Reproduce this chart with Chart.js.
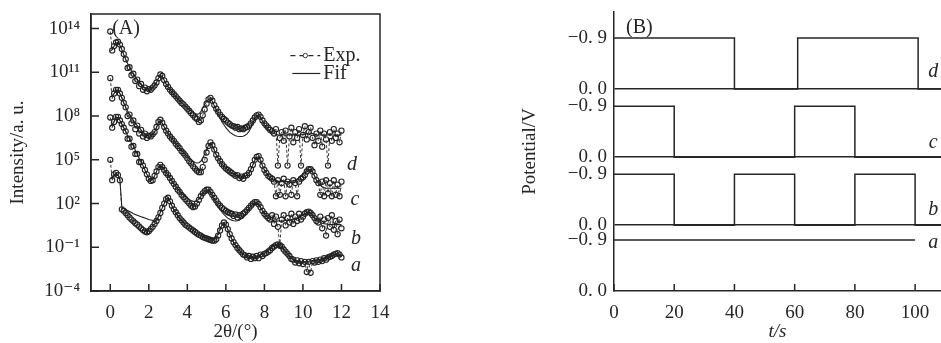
<!DOCTYPE html>
<html>
<head>
<meta charset="utf-8">
<script src="https://cdn.jsdelivr.net/npm/chart.js@4.4.1/dist/chart.umd.min.js"></script>
<style>
  body { margin: 0; background: #fff; width: 941px; height: 343px; position: relative; overflow: hidden; }
  #boxA { position: absolute; left: 0; top: 0; }
  #boxB { position: absolute; left: 500px; top: 0; }
</style>
</head>
<body>
<div id="boxA"><canvas id="chartA" width="400" height="343"></canvas></div>
<div id="boxB"><canvas id="chartB" width="441" height="343"></canvas></div>
<script>
// ---- Panel A: 2theta grid and log10(intensity) ----
const twoTheta = [
  0, 0.1, 0.2, 0.3, 0.4, 0.5, 0.6, 0.7, 0.8, 0.9,
  1, 1.1, 1.2, 1.3, 1.4, 1.5, 1.6, 1.7, 1.8, 1.9,
  2, 2.1, 2.2, 2.3, 2.4, 2.5, 2.6, 2.7, 2.8, 2.9,
  3, 3.1, 3.2, 3.3, 3.4, 3.5, 3.6, 3.7, 3.8, 3.9,
  4, 4.1, 4.2, 4.3, 4.4, 4.5, 4.6, 4.7, 4.8, 4.9,
  5, 5.1, 5.2, 5.3, 5.4, 5.5, 5.6, 5.7, 5.8, 5.9,
  6, 6.1, 6.2, 6.3, 6.4, 6.5, 6.6, 6.7, 6.8, 6.9,
  7, 7.1, 7.2, 7.3, 7.4, 7.5, 7.6, 7.7, 7.8, 7.9,
  8, 8.1, 8.2, 8.3, 8.4, 8.5, 8.6, 8.7, 8.8, 8.9,
  9, 9.1, 9.2, 9.3, 9.4, 9.5, 9.6, 9.7, 9.8, 9.9,
  10, 10.1, 10.2, 10.3, 10.4, 10.5, 10.6, 10.7, 10.8, 10.9,
  11, 11.1, 11.2, 11.3, 11.4, 11.5, 11.6, 11.7, 11.8, 11.9,
  12,
];

const expD = [
  13.8, 12.5, 12.8, 13.05, 13.1, 12.9, 12.6, 12.25, 11.9, 11.3,
  11.35, 10.8, 10.9, 10.4, 10.5, 10.05, 10.2, 9.8, 9.95, 9.7,
  9.85, 9.8, 9.95, 10.1, 10.3, 10.6, 10.85, 10.75, 10.45, 10.2,
  10.0, 9.8, 9.65, 9.5, 9.35, 9.2, 9.05, 8.9, 8.8, 8.65,
  8.5, 8.35, 8.2, 8.05, 7.9, 7.8, 7.6, 7.7, 8.05, 8.45,
  8.85, 9.15, 9.25, 9.05, 8.75, 8.5, 8.3, 8.1, 7.95, 7.8,
  7.7, 7.55, 7.45, 7.35, 7.3, 7.2, 7.25, 7.1, 7.15, 7.1,
  7.2, 7.25, 7.35, 7.5, 7.7, 7.9, 8.05, 8.1, 7.95, 7.7,
  7.5, 7.35, 7.2, 7.05, 6.95, 6.8, 7.1, 4.6, 6.5, 6.9,
  6.3, 7.0, 4.6, 6.6, 7.2, 6.2, 6.9, 6.5, 7.1, 4.6,
  6.7, 7.3, 6.4, 6.9, 7.2, 6.5, 6.0, 6.8, 6.3, 7.0,
  5.9, 6.8, 6.4, 4.6, 6.9, 6.3, 7.1, 6.5, 6.8, 6.2,
  7.0,
];
const fitD = [
  12.45, 12.55, 12.8, 13.0, 13.05, 12.85, 12.55, 12.2, 11.9, 11.6,
  11.35, 11.1, 10.9, 10.7, 10.5, 10.35, 10.2, 10.05, 9.95, 9.9,
  9.85, 9.85, 9.95, 10.1, 10.3, 10.6, 10.8, 10.7, 10.45, 10.2,
  10.0, 9.8, 9.65, 9.5, 9.35, 9.2, 9.05, 8.92, 8.8, 8.68,
  8.56, 8.45, 8.35, 8.25, 8.18, 8.12, 8.15, 8.3, 8.55, 8.8,
  9.0, 9.15, 9.2, 9.0, 8.7, 8.4, 8.1, 7.85, 7.6, 7.4,
  7.2, 7.05, 6.9, 6.8, 6.72, 6.65, 6.62, 6.6, 6.6, 6.62,
  6.68, 6.78, 6.95, 7.2, 7.5, 7.8, 8.0, 8.05, 7.9, 7.65,
  7.4, 7.2, 7.05, 6.95, 6.85, 6.8, 6.75, 6.72, 6.7, 6.7,
  6.7, 6.7, 6.7, 6.7, 6.7, 6.7, 6.7, 6.7, 6.7, 6.72,
  6.74, 6.76, 6.8, 6.82, 6.82, 6.8, 6.76, 6.72, 6.7, 6.7,
  6.7, 6.7, 6.7, 6.7, 6.7, 6.7, 6.7, 6.7, 6.7, 6.7,
  6.7,
];

const expC = [
  10.6, 9.2, 9.55, 9.8, 9.8, 9.55, 9.25, 8.9, 8.6, 8.0,
  8.1, 7.5, 7.7, 7.1, 7.35, 6.8, 7.05, 6.6, 6.8, 6.5,
  6.65, 6.6, 6.75, 6.9, 7.25, 7.6, 7.75, 7.55, 7.25, 7.0,
  6.8, 6.6, 6.45, 6.3, 6.1, 5.95, 5.8, 5.6, 5.45, 5.3,
  5.1, 4.9, 4.75, 4.55, 4.4, 4.25, 4.15, 4.15, 4.5, 5.0,
  5.5, 5.95, 6.2, 6.0, 5.7, 5.35, 5.1, 4.9, 4.7, 4.55,
  4.4, 4.3, 4.2, 4.1, 4.0, 3.9, 3.95, 3.75, 3.85, 3.7,
  3.9, 3.95, 4.1, 4.35, 4.65, 5.0, 5.2, 5.25, 5.0, 4.6,
  4.3, 4.1, 3.9, 3.8, 3.7, 3.5, 2.5, 3.6, 2.6, 3.4,
  3.7, 2.5, 3.5, 3.3, 2.6, 3.6, 3.4, 2.5, 3.5, 3.7,
  3.8, 3.95, 4.2, 4.35, 4.35, 4.2, 3.9, 3.6, 3.4, 2.6,
  3.5, 2.5, 3.6, 2.7, 3.4, 2.5, 3.6, 2.6, 3.3, 2.5,
  3.5,
];
const fitC = [
  9.3, 9.35, 9.55, 9.75, 9.75, 9.55, 9.25, 8.9, 8.6, 8.35,
  8.1, 7.9, 7.7, 7.5, 7.35, 7.2, 7.05, 6.9, 6.8, 6.72,
  6.65, 6.62, 6.72, 6.9, 7.2, 7.55, 7.7, 7.5, 7.25, 7.0,
  6.8, 6.6, 6.45, 6.3, 6.12, 5.97, 5.82, 5.66, 5.52, 5.38,
  5.25, 5.12, 5.0, 4.9, 4.82, 4.78, 4.8, 4.9, 5.1, 5.4,
  5.7, 6.0, 6.15, 5.95, 5.65, 5.35, 5.1, 4.9, 4.7, 4.55,
  4.42, 4.3, 4.2, 4.1, 4.02, 3.95, 3.88, 3.83, 3.8, 3.8,
  3.85, 3.95, 4.1, 4.35, 4.65, 4.95, 5.15, 5.2, 4.95, 4.6,
  4.3, 4.08, 3.9, 3.78, 3.68, 3.6, 3.55, 3.52, 3.5, 3.5,
  3.5, 3.5, 3.5, 3.52, 3.55, 3.58, 3.62, 3.68, 3.76, 3.88,
  4.0, 4.15, 4.28, 4.33, 4.3, 4.15, 3.9, 3.6, 3.4, 3.25,
  3.15, 3.1, 3.05, 3.05, 3.05, 3.05, 3.05, 3.05, 3.05, 3.05,
  3.05,
];

const expB = [
  7.9, 7.2, 7.6, 7.95, 7.95, 7.7, 7.45, 7.2, 6.95, 6.45,
  6.45, 5.9, 5.95, 5.4, 5.4, 4.85, 4.85, 4.6, 4.3, 4.0,
  3.7, 3.55, 3.6, 3.9, 4.2, 4.5, 4.65, 4.5, 4.3, 4.1,
  3.95, 3.75, 3.55, 3.35, 3.15, 2.95, 2.8, 2.6, 2.45, 2.3,
  2.15, 2.0, 1.85, 1.75, 1.8, 2.0, 2.25, 2.5, 2.7, 2.85,
  2.95, 2.95, 2.8, 2.6, 2.4, 2.2, 2.0, 1.85, 1.7, 1.6,
  1.5, 1.4, 1.35, 1.3, 1.15, 1.25, 1.05, 1.2, 1.15, 1.3,
  1.4, 1.55, 1.7, 1.85, 2.0, 2.1, 2.1, 1.95, 1.75, 1.5,
  1.3, 1.15, 1.0, 0.9, 1.2, 0.6, 1.1, 0.4, -0.9, 0.9,
  1.2, 0.5, 1.0, 0.7, 1.3, 0.6, 1.1, 0.8, 1.3, 0.9,
  1.1, 1.3, 1.4, 1.45, 1.35, 1.2, 1.0, 0.8, 0.7, 1.1,
  0.3, 0.9, -0.2, 1.0, 0.4, 1.2, 0.2, 0.8, -0.1, 0.9,
  0.3,
];
const fitB = [
  7.3, 7.4, 7.65, 7.9, 7.9, 7.7, 7.45, 7.2, 6.95, 6.65,
  6.45, 6.15, 5.95, 5.65, 5.4, 5.1, 4.85, 4.6, 4.3, 4.0,
  3.75, 3.6, 3.65, 3.9, 4.2, 4.48, 4.62, 4.48, 4.3, 4.1,
  3.95, 3.75, 3.55, 3.37, 3.2, 3.03, 2.88, 2.73, 2.6, 2.48,
  2.37, 2.28, 2.2, 2.15, 2.15, 2.2, 2.32, 2.5, 2.7, 2.85,
  2.93, 2.92, 2.75, 2.5, 2.25, 2.0, 1.78, 1.58, 1.4, 1.25,
  1.12, 1.0, 0.92, 0.86, 0.82, 0.8, 0.82, 0.86, 0.95, 1.08,
  1.25, 1.45, 1.65, 1.82, 1.97, 2.05, 2.05, 1.92, 1.72, 1.5,
  1.3, 1.15, 1.02, 0.93, 0.86, 0.82, 0.8, 0.8, 0.8, 0.8,
  0.82, 0.84, 0.86, 0.88, 0.9, 0.93, 0.97, 1.02, 1.08, 1.15,
  1.22, 1.3, 1.37, 1.4, 1.35, 1.22, 1.05, 0.9, 0.78, 0.7,
  0.65, 0.62, 0.6, 0.58, 0.57, 0.56, 0.55, 0.55, 0.55, 0.55,
  0.55,
];

const expA = [
  5.0, 3.6, 4.0, 4.1, 3.95, 3.6, 1.6, 1.5, 1.35, 1.2,
  1.05, 0.9, 0.78, 0.65, 0.55, 0.42, 0.3, 0.18, 0.08, 0.03,
  0.1, 0.25, 0.4, 0.6, 0.8, 1.05, 1.35, 1.7, 2.0, 2.3,
  2.4, 2.15, 1.85, 1.6, 1.4, 1.2, 1.0, 0.85, 0.7, 0.55,
  0.45, 0.35, 0.25, 0.15, 0.05, -0.05, -0.15, -0.2, -0.3, -0.35,
  -0.4, -0.45, -0.5, -0.55, -0.55, -0.45, -0.2, 0.15, 0.5, 0.7,
  0.55, 0.25, -0.1, -0.4, -0.65, -0.85, -1.05, -1.2, -1.35, -1.5,
  -1.55, -1.7, -1.6, -1.8, -1.65, -1.75, -1.6, -1.75, -1.5, -1.6,
  -1.45, -1.4, -1.3, -1.2, -1.05, -0.95, -0.85, -0.8, -0.85, -0.95,
  -1.15, -1.3, -1.45, -1.6, -1.8, -1.85, -2.05, -1.9, -2.1, -1.95,
  -2.15, -2.0, -2.7, -2.0, -2.75, -1.95, -2.05, -1.9, -2.0, -1.85,
  -1.95, -1.75, -1.85, -1.7, -1.65, -1.6, -1.5, -1.45, -1.4, -1.5,
  -1.7,
];
const fitA = [
  3.7, 3.75, 3.95, 4.05, 3.95, 3.65, 1.75, 1.68, 1.6, 1.52,
  1.45, 1.38, 1.3, 1.25, 1.2, 1.15, 1.1, 1.05, 1.0, 0.95,
  0.9, 0.87, 0.84, 0.8, 0.9, 1.1, 1.4, 1.7, 2.0, 2.3,
  2.4, 2.15, 1.85, 1.6, 1.4, 1.2, 1.0, 0.85, 0.7, 0.55,
  0.45, 0.35, 0.25, 0.15, 0.05, -0.05, -0.12, -0.18, -0.24, -0.3,
  -0.35, -0.4, -0.43, -0.45, -0.42, -0.3, -0.05, 0.25, 0.55, 0.68,
  0.5, 0.2, -0.12, -0.42, -0.67, -0.88, -1.06, -1.22, -1.36, -1.48,
  -1.57, -1.64, -1.68, -1.7, -1.7, -1.68, -1.64, -1.58, -1.52, -1.46,
  -1.4, -1.32, -1.22, -1.1, -0.98, -0.88, -0.82, -0.8, -0.85, -0.97,
  -1.13, -1.3, -1.46, -1.6, -1.72, -1.82, -1.9, -1.95, -1.98, -2.0,
  -2.0, -2.0, -1.98, -1.96, -1.94, -1.92, -1.9, -1.88, -1.85, -1.82,
  -1.78, -1.74, -1.7, -1.66, -1.62, -1.57, -1.52, -1.47, -1.45, -1.5,
  -1.6,
];

const xTicksA = [0, 2, 4, 6, 8, 10, 12, 14];
const yTicksA = [1e-4, 1e-1, 1e2, 1e5, 1e8, 1e11, 1e14];

// ---- Panel B: switching times (s) and applied potential (V) ----
const timeD = [0, 40, 61, 101, 110];
const potD = [-0.9, 0, -0.9, 0, 0];
const timeC = [0, 20, 60, 80, 110];
const potC = [-0.9, 0, -0.9, 0, 0];
const timeB = [0, 20, 40, 60, 80, 100, 110];
const potB = [-0.9, 0, -0.9, 0, -0.9, 0, 0];
const timeA = [0, 100];
const potA = [-0.9, -0.9];
const xTicksB = [0, 20, 40, 60, 80, 100];

const SERIF = "'Liberation Serif', 'DejaVu Serif', serif";
const INK = "#262626";
const SUP = { "-": "\u207B", 0: "\u2070", 1: "\u00B9", 2: "\u00B2", 3: "\u00B3", 4: "\u2074", 5: "\u2075", 6: "\u2076", 7: "\u2077", 8: "\u2078", 9: "\u2079" };

document.addEventListener("DOMContentLoaded", () => {
  renderPanelA();
  renderPanelB();
});

function toSuper(n) {
  return String(n).split("").map((ch) => SUP[ch]).join("");
}

function makeDecor(cfg) {
  return {
    id: "decor" + cfg.name,
    afterDraw(chart) {
      const { ctx, chartArea: area, scales } = chart;
      const x = scales.x;
      const y = scales.y;
      ctx.save();
      ctx.strokeStyle = INK;
      ctx.lineWidth = 1.5;
      if (cfg.box) {
        ctx.strokeRect(area.left, area.top, area.right - area.left, area.bottom - area.top);
      }
      // ticks point inwards
      ctx.beginPath();
      x.ticks.forEach((t) => {
        const px = x.getPixelForValue(t.value);
        ctx.moveTo(px, area.bottom);
        ctx.lineTo(px, area.bottom - 7);
      });
      if (cfg.yTicks) {
        y.ticks.forEach((t) => {
          const py = y.getPixelForValue(t.value);
          ctx.moveTo(area.left, py);
          ctx.lineTo(area.left + 8, py);
        });
      }
      ctx.stroke();

      if (cfg.legend) {
        cfg.legend.forEach((item) => {
          const x0 = x.getPixelForValue(item.from);
          const x1 = x.getPixelForValue(item.to);
          const py = y.getPixelForValue(item.at);
          ctx.beginPath();
          ctx.lineWidth = 1.2;
          ctx.setLineDash(item.dashed ? [5, 4] : []);
          ctx.moveTo(x0, py);
          ctx.lineTo(x1, py);
          ctx.stroke();
          ctx.setLineDash([]);
          if (item.dashed) {
            ctx.beginPath();
            ctx.lineWidth = 0.9;
            ctx.fillStyle = "#fff";
            ctx.arc((x0 + x1) / 2, py, 2.2, 0, Math.PI * 2);
            ctx.fill();
            ctx.stroke();
          }
          ctx.fillStyle = INK;
          ctx.font = "20px " + SERIF;
          ctx.textAlign = "left";
          ctx.textBaseline = "middle";
          ctx.fillText(item.text, x1 + 3, py);
        });
      }

      cfg.labels.forEach((l) => {
        ctx.fillStyle = INK;
        ctx.font = (l.italic ? "italic " : "") + "20px " + SERIF;
        ctx.textAlign = l.align || "center";
        ctx.textBaseline = "middle";
        ctx.fillText(l.text, x.getPixelForValue(l.x), y.getPixelForValue(l.y));
      });
      ctx.restore();
    },
  };
}

function expSet(logs) {
  return {
    data: twoTheta.map((t, i) => ({ x: t, y: 10 ** logs[i] })),
    showLine: true,
    borderColor: "#3a3a3a",
    borderWidth: 1,
    borderDash: [3, 2],
    pointRadius: 2.6,
    pointBorderWidth: 1.1,
    pointBorderColor: "#222",
    pointBackgroundColor: "rgba(255,255,255,0)",
    order: 1,
  };
}

function fitSet(logs) {
  return {
    data: twoTheta.map((t, i) => ({ x: t, y: 10 ** logs[i] })),
    showLine: true,
    borderColor: "#222",
    borderWidth: 1.1,
    pointRadius: 0,
    order: 0,
  };
}

function renderPanelA() {
  const ctx = document.getElementById("chartA").getContext("2d");
  new Chart(ctx, {
    type: "scatter",
    data: {
      datasets: [
        expSet(expD), expSet(expC), expSet(expB), expSet(expA),
        fitSet(fitD), fitSet(fitC), fitSet(fitB), fitSet(fitA),
      ],
    },
    options: {
      responsive: false,
      animation: false,
      layout: { padding: { left: 0, top: 14, right: 20, bottom: 0 } },
      plugins: { legend: { display: false }, tooltip: { enabled: false } },
      scales: {
        x: {
          type: "linear",
          min: -1,
          max: 14,
          afterBuildTicks: (s) => { s.ticks = xTicksA.map((v) => ({ value: v })); },
          afterFit: (s) => { s.height = 52; s.paddingLeft = 0; s.paddingRight = 0; },
          grid: { display: false },
          border: { display: true, color: INK, width: 1.5 },
          ticks: { color: INK, font: { family: SERIF, size: 19 }, padding: 3, autoSkip: false, maxRotation: 0 },
          title: { display: true, text: "2θ/(°)", color: INK, font: { family: SERIF, size: 19 }, padding: { top: 0, bottom: 0 } },
        },
        y: {
          type: "logarithmic",
          min: 1e-4,
          max: 1e15,
          afterBuildTicks: (s) => { s.ticks = yTicksA.map((v) => ({ value: v })); },
          afterFit: (s) => { s.width = 91; s.paddingTop = 0; s.paddingBottom = 0; },
          grid: { display: false },
          border: { display: true, color: INK, width: 1.5 },
          ticks: {
            color: INK,
            font: { family: SERIF, size: 19 },
            padding: 3,
            autoSkip: false,
            callback: (v) => "10" + toSuper(Math.round(Math.log10(v))),
          },
          title: { display: true, text: "Intensity/a. u.", color: INK, font: { family: SERIF, size: 19 }, padding: { top: 7, bottom: 0 } },
        },
      },
    },
    plugins: [
      makeDecor({
        name: "A",
        box: true,
        yTicks: true,
        legend: [
          { text: "Exp.", from: 9.35, to: 10.9, at: 10 ** 12.15, dashed: true },
          { text: "Fif", from: 9.45, to: 10.9, at: 10 ** 10.92, dashed: false },
        ],
        labels: [
          { text: "(A)", x: 0.1, y: 1e14, align: "left" },
          { text: "d", x: 12.55, y: 10 ** 4.68, italic: true },
          { text: "c", x: 12.7, y: 10 ** 2.29, italic: true },
          { text: "b", x: 12.75, y: 10 ** -0.45, italic: true },
          { text: "a", x: 12.75, y: 10 ** -2.3, italic: true },
        ],
      }),
    ],
  });
}

function renderPanelB() {
  // vertical stacking of the four traces
  const traceOffsets = [0, 1.16, 2.36, 3.56];
  const baselines = traceOffsets.slice(1);
  const tickValues = [];
  traceOffsets.forEach((o) => { tickValues.push(o, o + 0.9); });

  const wave = (times, pots, offset) => ({
    data: times.map((t, i) => ({ x: t, y: offset - pots[i] })),
    showLine: true,
    stepped: true,
    borderColor: INK,
    borderWidth: 1.5,
    pointRadius: 0,
  });

  const ctx = document.getElementById("chartB").getContext("2d");
  new Chart(ctx, {
    type: "scatter",
    data: {
      datasets: [
        wave(timeA, potA, traceOffsets[0]),
        wave(timeB, potB, traceOffsets[1]),
        wave(timeC, potC, traceOffsets[2]),
        wave(timeD, potD, traceOffsets[3]),
      ],
    },
    options: {
      responsive: false,
      animation: false,
      layout: { padding: { left: 0, top: 12, right: 0, bottom: 0 } },
      plugins: { legend: { display: false }, tooltip: { enabled: false } },
      scales: {
        x: {
          type: "linear",
          min: 0,
          max: 108.6,
          afterBuildTicks: (s) => { s.ticks = xTicksB.map((v) => ({ value: v })); },
          afterFit: (s) => { s.height = 52; s.paddingLeft = 0; s.paddingRight = 0; },
          grid: { display: false },
          border: { display: true, color: INK, width: 1.5 },
          ticks: { color: INK, font: { family: SERIF, size: 19 }, padding: 3, autoSkip: false, maxRotation: 0 },
          title: { display: true, text: "t/s", color: INK, font: { family: SERIF, size: 19, style: "italic" }, padding: { top: 0, bottom: 0 } },
        },
        y: {
          type: "linear",
          min: 0,
          max: 4.92,
          afterBuildTicks: (s) => { s.ticks = tickValues.map((v) => ({ value: v })); },
          afterFit: (s) => { s.width = 114; s.paddingTop = 0; s.paddingBottom = 0; },
          grid: {
            display: true,
            drawTicks: false,
            tickLength: 0,
            lineWidth: 1.5,
            color: (c) => (c.tick && baselines.some((b) => Math.abs(b - c.tick.value) < 1e-6) ? INK : "rgba(0,0,0,0)"),
          },
          border: { display: true, color: INK, width: 1.5 },
          ticks: {
            color: INK,
            font: { family: SERIF, size: 19 },
            padding: 7,
            autoSkip: false,
            callback: (v, i) => (i % 2 === 0 ? "0. 0" : "\u22120. 9"),
          },
          title: { display: true, text: "Potential/V", color: INK, font: { family: SERIF, size: 19 }, padding: { top: 19, bottom: 0 } },
        },
      },
    },
    plugins: [
      makeDecor({
        name: "B",
        box: false,
        yTicks: false,
        labels: [
          { text: "(B)", x: 4, y: 4.64, align: "left" },
          { text: "d", x: 106, y: 3.86, italic: true },
          { text: "c", x: 106, y: 2.61, italic: true },
          { text: "b", x: 106, y: 1.43, italic: true },
          { text: "a", x: 106, y: 0.85, italic: true },
        ],
      }),
    ],
  });
}
</script>
</body>
</html>
